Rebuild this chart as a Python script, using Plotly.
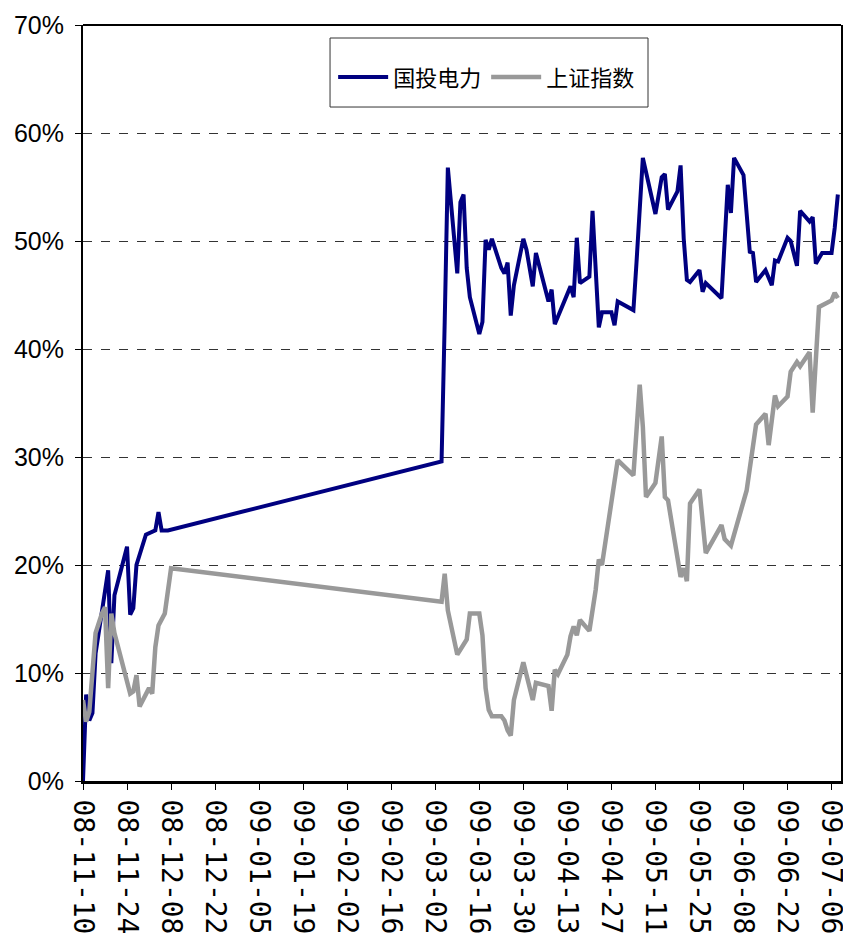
import plotly.graph_objects as go

# ---- data (cumulative % change) ----
gtdl_dates = [
    "2008-11-10", "2008-11-11", "2008-11-12", "2008-11-13", "2008-11-14", "2008-11-15",
    "2008-11-16", "2008-11-18", "2008-11-19", "2008-11-20", "2008-11-24", "2008-11-25",
    "2008-11-26", "2008-11-27", "2008-11-30", "2008-12-03", "2008-12-04", "2008-12-05",
    "2008-12-07",
    "2009-03-04", "2009-03-05", "2009-03-06", "2009-03-09", "2009-03-10", "2009-03-11",
    "2009-03-12", "2009-03-13", "2009-03-16", "2009-03-17", "2009-03-18", "2009-03-19",
    "2009-03-20", "2009-03-23", "2009-03-24", "2009-03-25", "2009-03-26", "2009-03-27",
    "2009-03-30", "2009-03-31", "2009-04-02", "2009-04-03", "2009-04-07", "2009-04-08",
    "2009-04-09", "2009-04-14", "2009-04-15", "2009-04-16", "2009-04-17", "2009-04-20",
    "2009-04-21", "2009-04-23", "2009-04-24", "2009-04-27", "2009-04-28", "2009-04-29",
    "2009-05-04", "2009-05-05", "2009-05-07", "2009-05-11", "2009-05-13", "2009-05-14",
    "2009-05-15", "2009-05-18", "2009-05-19", "2009-05-20", "2009-05-21", "2009-05-22",
    "2009-05-25", "2009-05-26", "2009-05-27", "2009-06-01", "2009-06-03", "2009-06-04",
    "2009-06-05", "2009-06-08", "2009-06-10", "2009-06-11", "2009-06-12", "2009-06-15",
    "2009-06-17", "2009-06-18", "2009-06-19", "2009-06-22", "2009-06-23", "2009-06-25",
    "2009-06-26", "2009-06-29", "2009-06-30", "2009-07-01", "2009-07-03", "2009-07-06",
    "2009-07-07", "2009-07-08",
]
gtdl_values = [
    0.0, 8.0, 5.6, 6.3, 11.8, 13.7,
    15.8, 19.5, 10.9, 17.2, 21.7, 15.4,
    16.0, 20.0, 22.8, 23.2, 24.9, 23.2,
    23.2,
    29.6, 42.5, 56.8, 47.0, 53.6, 54.3,
    47.5, 44.8, 41.4, 42.5, 50.1, 49.2,
    50.2, 47.5, 47.0, 48.0, 43.1, 45.9,
    50.2, 49.2, 45.8, 48.9, 44.4, 45.5,
    42.3, 45.8, 44.8, 50.3, 46.1, 46.7,
    52.8, 42.0, 43.4, 43.4, 42.2, 44.4,
    43.6, 48.1, 57.7, 52.5, 55.9, 56.2,
    52.9, 54.6, 57.0, 50.2, 46.4, 46.2,
    47.3, 45.3, 46.1, 44.7, 55.2, 52.6,
    57.7, 56.1, 49.0, 48.9, 46.2, 47.3,
    45.9, 48.2, 48.1, 50.3, 50.0, 47.7,
    52.8, 51.8, 52.2, 47.9, 48.9, 48.9,
    51.2, 54.3,
]

szzs_dates = [
    "2008-11-10", "2008-11-11", "2008-11-12", "2008-11-14", "2008-11-16", "2008-11-17",
    "2008-11-18", "2008-11-19", "2008-11-20", "2008-11-25", "2008-11-26", "2008-11-27",
    "2008-11-28", "2008-12-01", "2008-12-02", "2008-12-03", "2008-12-04", "2008-12-06",
    "2008-12-08",
    "2009-03-04", "2009-03-05", "2009-03-06", "2009-03-09", "2009-03-11", "2009-03-12",
    "2009-03-13", "2009-03-16", "2009-03-17", "2009-03-18", "2009-03-19", "2009-03-20",
    "2009-03-23", "2009-03-24", "2009-03-25", "2009-03-26", "2009-03-27", "2009-03-30",
    "2009-04-02", "2009-04-03", "2009-04-07", "2009-04-08", "2009-04-09", "2009-04-10",
    "2009-04-13", "2009-04-14", "2009-04-15", "2009-04-16", "2009-04-17", "2009-04-20",
    "2009-04-22", "2009-04-23", "2009-04-24", "2009-04-29", "2009-05-04", "2009-05-06",
    "2009-05-07", "2009-05-08", "2009-05-11", "2009-05-13", "2009-05-14", "2009-05-15",
    "2009-05-19", "2009-05-20", "2009-05-21", "2009-05-22", "2009-05-25", "2009-05-27",
    "2009-06-01", "2009-06-02", "2009-06-04", "2009-06-09", "2009-06-12", "2009-06-15",
    "2009-06-16", "2009-06-18", "2009-06-19", "2009-06-22", "2009-06-23", "2009-06-25",
    "2009-06-26", "2009-06-29", "2009-06-30", "2009-07-02", "2009-07-06", "2009-07-07",
    "2009-07-08",
]
szzs_values = [
    7.5, 5.5, 6.4, 13.7, 15.5, 16.1,
    8.6, 15.5, 13.7, 8.1, 8.3, 9.8,
    6.9, 8.6, 8.1, 12.4, 14.4, 15.5,
    19.7,
    16.6, 19.2, 15.8, 11.7, 12.7, 13.1,
    15.5, 15.5, 13.5, 8.6, 6.6, 6.0,
    6.0, 5.6, 4.7, 4.2, 7.5, 11.0,
    7.5, 9.1, 8.8, 6.5, 10.3, 9.9,
    11.7, 13.4, 14.3, 13.5, 14.9, 13.9,
    17.7, 20.5, 20.0, 29.7, 28.3, 36.7,
    32.8, 26.3, 27.6, 31.9, 26.3, 26.0,
    18.9, 19.7, 18.5, 25.7, 27.0, 21.1,
    23.7, 22.4, 21.8, 26.9, 33.0, 34.0,
    31.1, 35.7, 34.7, 35.6, 37.9, 38.8,
    38.4, 39.7, 34.1, 43.9, 44.5, 45.2,
    44.7,
]

series_names = ["国投电力", "上证指数"]

tick_dates = [
    "2008-11-10", "2008-11-24", "2008-12-08", "2008-12-22", "2009-01-05", "2009-01-19",
    "2009-02-02", "2009-02-16", "2009-03-02", "2009-03-16", "2009-03-30", "2009-04-13",
    "2009-04-27", "2009-05-11", "2009-05-25", "2009-06-08", "2009-06-22", "2009-07-06",
]
tick_labels = [
    "08-11-10", "08-11-24", "08-12-08", "08-12-22", "09-01-05", "09-01-19",
    "09-02-02", "09-02-16", "09-03-02", "09-03-16", "09-03-30", "09-04-13",
    "09-04-27", "09-05-11", "09-05-25", "09-06-08", "09-06-22", "09-07-06",
]
y_ticks = [0, 10, 20, 30, 40, 50, 60, 70]
y_tick_labels = ["0%", "10%", "20%", "30%", "40%", "50%", "60%", "70%"]

fig = go.Figure()
fig.add_trace(go.Scatter(x=gtdl_dates, y=gtdl_values, mode="lines", name=series_names[0],
                         line=dict(color="#000080", width=4)))
fig.add_trace(go.Scatter(x=szzs_dates, y=szzs_values, mode="lines", name=series_names[1],
                         line=dict(color="#999999", width=4.5)))

fig.update_layout(
    width=843, height=944,
    margin=dict(l=83, r=2, t=25, b=163, autoexpand=False),
    paper_bgcolor="white", plot_bgcolor="white",
    showlegend=True,
    legend=dict(
        x=0.33, y=0.931, xanchor="left", yanchor="middle",
        orientation="h", bgcolor="rgba(0,0,0,0)", borderwidth=0,
        font=dict(family="Noto Sans CJK SC", size=22, color="black"),
        itemwidth=50,
    ),
    xaxis=dict(
        type="date", range=["2008-11-10", "2009-07-09"],
        tickmode="array", tickvals=tick_dates, ticktext=tick_labels,
        tickangle=90, tickfont=dict(family="DejaVu Sans Mono", size=28, color="black"),
        ticks="outside", ticklen=6, tickwidth=1, tickcolor="black",
        ticklabelstandoff=4, ticklabeloverflow="allow",
        showline=True, linecolor="black", linewidth=3,
        showgrid=False, zeroline=False, automargin=False,
    ),
    yaxis=dict(
        range=[0, 70], tickmode="array", tickvals=y_ticks, ticktext=y_tick_labels,
        tickfont=dict(family="Liberation Sans", size=25, color="black"),
        ticks="outside", ticklen=6, tickwidth=1, tickcolor="black",
        ticklabelstandoff=6,
        showline=True, linecolor="black", linewidth=2, mirror=True,
        showgrid=True, gridcolor="#333333", gridwidth=1, griddash="dash",
        zeroline=False, automargin=False,
    ),
    shapes=[
        dict(type="line", xref="paper", yref="paper", x0=0, x1=1, y0=1, y1=1,
             line=dict(color="black", width=2)),
        dict(type="rect", xref="paper", yref="paper", x0=0.3259, x1=0.7454,
             y0=0.8915, y1=0.9828, fillcolor="white", layer="below",
             line=dict(color="#333333", width=1)),
    ],
)

fig.write_html(
    "out.html",
    config={"displayModeBar": False},
    post_script="document.body.style.margin='0';document.body.style.overflow='hidden';",
)
